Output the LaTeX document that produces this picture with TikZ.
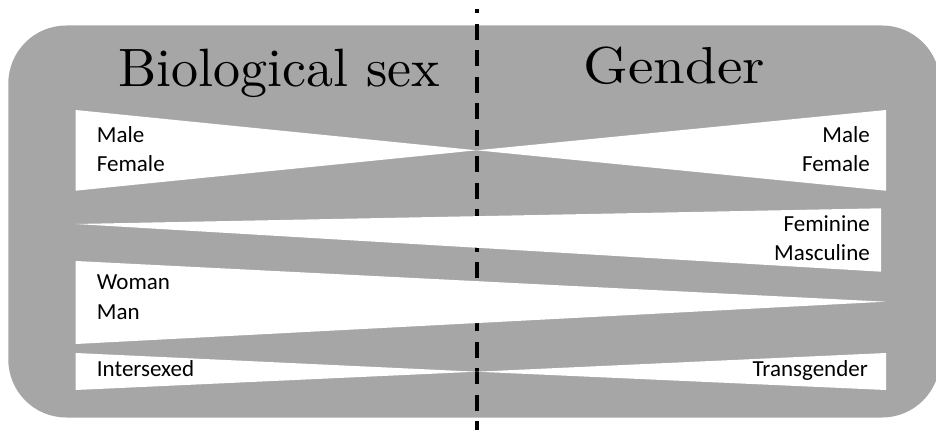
\documentclass[tikz,border=0pt]{standalone}
\usepackage{fontspec}
\usepackage{graphicx}
\newfontfamily\labelfont{Carlito}
\newfontfamily\headfont{lmroman10-regular.otf}
\definecolor{panelgray}{RGB}{166,166,166}
\tikzset{
  wedge/.style={fill=white},
  lbl/.style={font=\labelfont\fontsize{23}{27}\selectfont, inner sep=0pt},
  heading/.style={font=\headfont\fontsize{54}{60}\selectfont, inner sep=0pt},
}

\begin{document}
\begin{tikzpicture}[x=1pt,y=-1pt]
  \clip (0,0) rectangle (936,430);
  \fill[panelgray,rounded corners=58pt] (8.3,25.5) rectangle (940,417.5);
  % divider
  \coordinate (top) at (476.6,9.5);
  \coordinate (bottom) at (476.6,432);
  \draw[line width=4pt,dash pattern=on 16pt off 10.5pt,dash phase=12.2pt] (top) -- (bottom);
  % white wedges
  \fill[wedge] (75.7,110) -- (75.7,190.7) -- (476.6,150.3) -- cycle;
  \fill[wedge] (886,110) -- (886,190.7) -- (476.6,150.3) -- cycle;
  \fill[wedge] (75.7,224) -- (881,208.3) -- (881,271.7) -- cycle;
  \fill[wedge] (75.7,261) -- (75.7,344) -- (885.5,301.7) -- cycle;
  \fill[wedge] (75.7,353) -- (75.7,390) -- (476.6,371.7) -- cycle;
  \fill[wedge] (886,353) -- (886,390) -- (476.6,371.7) -- cycle;
  % headings
  \node[heading,anchor=base west] (sex) at (118,86.5) {Biological sex};
  \node[heading,anchor=base west] (gender) at (583,83.5) {\scalebox{1.1}[1]{\fontsize{52}{60}\selectfont Gender}};
  % labels
  \node[lbl,anchor=base west] (male1) at (96.7,142.7) {Male};
  \node[lbl,anchor=base west] (female1) at (96.7,171.7) {Female};
  \node[lbl,anchor=base east] (male2) at (870,142.7) {Male};
  \node[lbl,anchor=base east] (female2) at (870,171.7) {Female};
  \node[lbl,anchor=base east] (feminine) at (870,231.7) {Feminine};
  \node[lbl,anchor=base east] (masculine) at (870,260) {Masculine};
  \node[lbl,anchor=base west] (woman) at (96.7,289.3) {Woman};
  \node[lbl,anchor=base west] (man) at (96.7,319.3) {Man};
  \node[lbl,anchor=base west] (intersex) at (96.7,376.7) {Intersexed};
  \node[lbl,anchor=base east] (transgender) at (868,376.7) {Transgender};
\end{tikzpicture}
\end{document}
